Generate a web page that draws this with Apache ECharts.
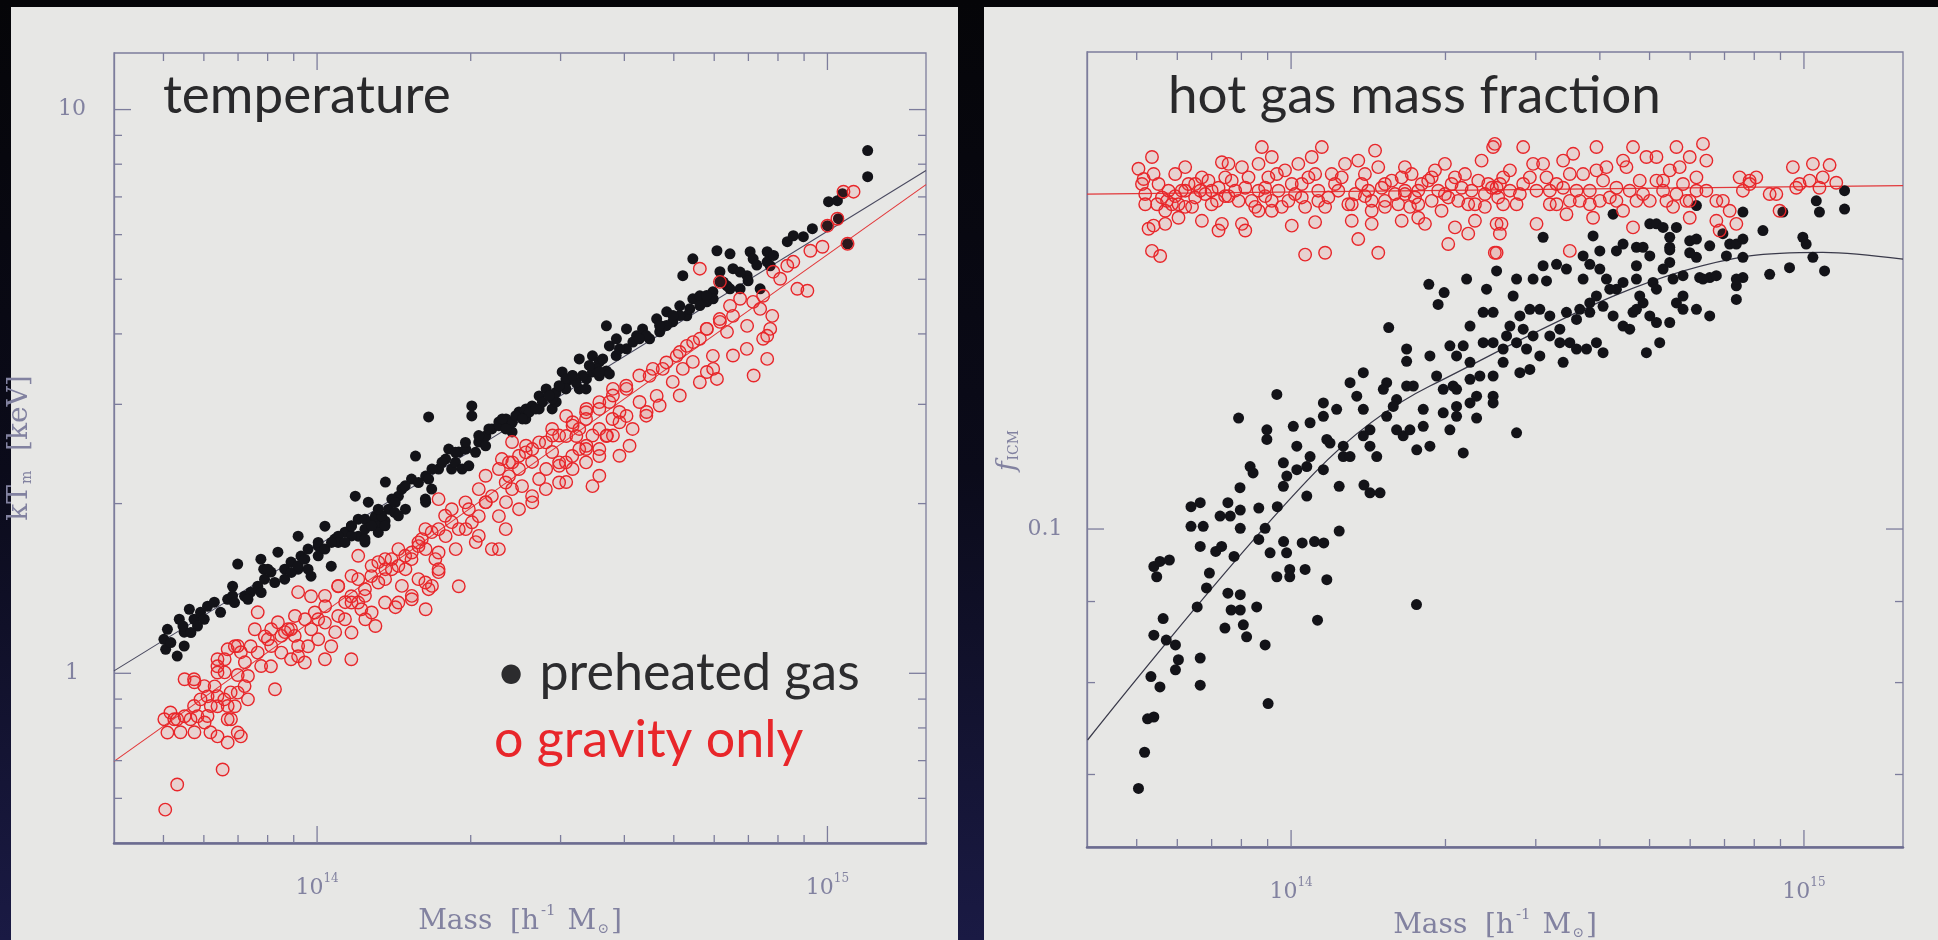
<!DOCTYPE html>
<html>
<head>
<meta charset="utf-8">
<title>Preheated gas vs gravity only: cluster temperature and hot gas fraction</title>
<script src="https://cdn.jsdelivr.net/npm/echarts/dist/echarts.min.js"></script>
<style>
  html, body { margin: 0; padding: 0; background: #07070c; }
  #chart { width: 1938px; height: 940px; }
</style>
</head>
<body>
<div id="chart"></div>
<script>
// Masses are stored in units of 1e14 h^-1 Msun.
const MASS_UNIT = 1e14;

// ---- Left panel: mass-weighted temperature kT_m [keV] ----
const tempPreheated = [
  [0.501,1.149],[0.505,1.103],[0.532,1.073],[0.537,1.247],[0.549,1.183],[0.562,1.299],[0.574,1.247],[0.591,1.283],[0.610,1.315],[0.629,1.337],
  [0.647,1.283],[0.668,1.353],[0.683,1.427],[0.699,1.562],[0.721,1.370],[0.741,1.393],[0.765,1.427],[0.776,1.594],[0.789,1.469],[0.812,1.512],
  [0.838,1.640],[0.864,1.530],[0.889,1.575],[0.918,1.751],[0.930,1.614],[0.960,1.661],[0.973,1.487],[1.005,1.681],[1.036,1.824],[1.066,1.549],
  [1.083,1.730],[1.134,1.780],[1.167,1.824],[1.204,1.751],[1.241,1.709],[1.277,1.854],[1.318,1.839],[1.359,1.862],[0.960,1.530],[1.100,1.751],
  [1.188,2.062],[1.204,1.877],[1.260,2.012],[1.301,1.900],[1.361,2.184],[1.380,1.955],[1.443,2.062],[1.490,1.955],[1.531,2.211],[1.559,2.429],
  [1.632,2.012],[1.654,2.850],[1.632,2.238],[1.730,2.303],[1.786,2.399],[1.835,2.303],[1.895,2.469],[1.956,2.499],[2.010,2.981],[2.010,2.861],
  [2.074,2.572],[2.141,2.636],[2.200,2.713],[2.271,2.792],[2.345,2.826],[2.410,2.680],[2.487,2.908],[2.567,2.944],[2.638,2.981],[2.723,3.105],
  [2.811,3.195],[2.888,2.944],[2.941,3.029],[3.077,3.288],[3.162,3.370],[3.264,3.195],[3.371,3.328],[3.464,3.424],[3.573,3.370],[3.689,3.438],
  [3.022,3.424],[3.120,3.328],[3.264,3.612],[3.464,3.657],[3.573,3.568],[3.689,4.134],[3.739,3.809],[3.859,3.921],[4.039,4.083],[4.039,3.763],
  [4.227,3.969],[4.343,4.083],[4.483,3.921],[4.628,4.254],[4.692,4.034],[4.843,4.377],[4.976,4.202],[5.136,4.486],[5.207,5.073],[5.302,4.306],
  [5.448,5.437],[5.448,4.617],[5.623,4.674],[5.804,4.560],[5.964,4.751],[6.074,5.618],[6.157,5.157],[6.356,4.869],[6.443,5.549],[6.531,5.221],
  [6.743,4.809],[6.960,5.073],[7.055,5.595],[7.152,5.437],[7.382,4.809],[7.620,5.595],[7.620,5.370],[8.343,5.829],[8.573,5.973],[6.991,4.969],
  [7.724,5.284],[6.157,4.948],[5.884,4.617],[8.970,5.949],[9.344,6.147],[10.00,6.223],[10.05,6.865],[10.46,6.893],[10.51,6.403],[10.70,7.092],
  [10.95,5.781],[11.99,8.458],[11.99,7.603],[1.811,2.499],[1.867,2.367],[1.924,2.303],[1.983,2.334],[2.044,2.466],[2.139,2.533],[2.271,2.750],
  [2.413,2.788],[2.564,2.826],[2.723,2.944],[2.892,3.067],[3.073,3.328],[3.365,3.195],[3.739,3.397],[1.241,1.877],[1.338,1.903],[1.401,2.037],
  [1.466,2.122],[1.005,1.707],[0.918,1.530],[3.073,3.195],[3.314,3.375],[3.522,3.467],[3.855,3.662],[4.157,3.868],[4.416,3.973],[4.836,4.140],
  [5.136,4.312],[5.623,4.491],[5.972,4.617],[6.443,4.809],[0.546,1.213],[0.683,1.372],[0.786,1.530],[1.418,1.929],[1.677,2.122],
  [0.801,1.530],[0.826,1.449],[0.864,1.469],[0.890,1.510],[0.918,1.551],[0.946,1.594],[1.005,1.616],[1.036,1.661],[1.100,1.707],[1.168,1.753],
  [1.241,1.802],[1.318,1.778],[0.777,1.391],[0.732,1.353],[0.689,1.335],[0.601,1.247],[0.583,1.213],[0.566,1.181],[0.517,1.134],[0.549,1.118],
  [0.509,1.197],[1.067,1.707],[1.134,1.707],[1.168,1.827],[1.279,1.827],[1.318,1.955],[1.422,2.010],[1.488,2.151],[1.580,2.180],[1.654,2.211],
  [1.679,2.303],[1.757,2.367],[1.867,2.466],[1.953,2.568],[2.074,2.641],[2.171,2.713],[2.306,2.826],[2.451,2.864],[2.605,2.905],[2.764,3.027],
  [2.937,3.150],[3.216,3.283],[3.573,3.424],[1.241,1.730],[1.359,1.827],[1.443,1.903],[1.630,2.037],[2.342,2.713],[2.525,2.826],[2.683,2.944],
  [2.850,3.110],[2.980,3.237],[3.167,3.375],[3.416,3.516],[3.628,3.612],[3.913,3.763],[4.280,3.921],[4.690,4.140],[4.982,4.312],[5.374,4.431],
  [5.799,4.680],[6.251,4.943],[6.743,5.150],[7.271,5.298],[7.842,5.511]
];
const tempGravity = [
  [0.504,0.573],[0.532,0.635],[0.653,0.675],[0.502,0.829],[0.516,0.852],[0.532,0.829],[0.550,0.839],[0.565,0.829],[0.583,0.839],[0.602,0.818],
  [0.540,0.786],[0.575,0.786],[0.618,0.786],[0.638,0.773],[0.668,0.754],[0.709,0.773],[0.550,0.976],[0.575,0.964],[0.630,0.948],[0.659,1.004],
  [0.610,0.910],[0.638,0.874],[0.668,0.829],[0.690,0.874],[0.732,0.899],[0.677,0.925],[0.699,0.993],[0.722,1.046],[0.690,1.117],[0.709,1.090],
  [0.659,1.059],[0.638,1.029],[0.741,1.117],[0.755,1.197],[0.765,1.283],[0.790,1.163],[0.812,1.029],[0.827,0.937],[0.838,1.232],[0.865,1.183],
  [0.889,1.197],[0.889,1.059],[0.918,1.072],[0.918,1.393],[0.947,1.247],[0.960,1.117],[0.973,1.370],[1.005,1.247],[1.037,1.315],[1.066,1.117],
  [1.085,1.183],[1.100,1.427],[1.135,1.337],[1.167,1.370],[1.167,1.059],[1.204,1.469],[1.221,1.299],[1.243,1.247],[1.277,1.487],[1.301,1.213],
  [1.318,1.575],[1.361,1.530],[1.399,1.594],[1.424,1.310],[1.443,1.661],[1.490,1.530],[1.531,1.594],[1.580,1.681],[1.632,1.661],[1.632,1.299],
  [1.654,1.410],[1.677,1.780],[1.730,1.802],[1.730,1.512],[1.786,1.751],[1.835,1.854],[1.869,1.661],[1.895,1.427],[1.956,1.802],[1.983,1.955],
  [2.046,1.709],[2.074,1.900],[2.141,2.012],[2.200,2.062],[2.271,1.900],[2.271,1.661],[2.345,2.012],[2.377,2.238],[2.410,2.122],[2.487,2.303],
  [2.521,2.148],[2.638,2.062],[2.638,2.371],[2.723,2.211],[2.811,2.303],[2.888,2.469],[2.981,2.334],[3.077,2.184],[3.077,2.636],[3.162,2.429],
  [3.264,2.713],[3.371,2.533],[3.464,2.148],[3.573,2.429],[3.689,2.636],[3.791,2.826],[3.913,2.908],[4.039,3.195],[2.302,2.399],[2.410,2.572],
  [2.567,2.533],[2.888,2.713],[3.077,2.861],[3.221,2.636],[3.371,2.944],[3.573,2.713],[3.739,3.029],[4.039,2.861],[4.095,2.533],[4.152,2.713],
  [4.284,3.029],[4.422,2.908],[4.483,3.370],[4.628,3.105],[4.756,3.467],[4.976,3.288],[5.067,3.657],[5.207,3.467],[5.302,3.809],[5.448,3.568],
  [5.623,3.921],[5.804,4.083],[5.804,3.424],[5.964,3.657],[6.074,3.328],[6.157,4.202],[6.356,4.034],[6.443,4.486],[6.531,4.306],[6.743,4.617],
  [6.960,4.134],[7.152,4.560],[7.382,4.431],[7.482,4.674],[7.482,3.921],[7.620,3.612],[7.724,4.083],[7.831,5.157],[8.080,5.010],[8.573,5.370],
  [8.730,4.809],[5.623,5.221],[6.157,4.948],[8.343,5.284],[9.134,4.771],[9.259,5.618],[9.777,5.711],[10.00,6.223],[10.46,6.403],[10.75,7.151],
  [11.25,7.151],[10.95,5.781],[7.796,4.306],[7.620,3.969],[0.905,1.264],
  [0.813,1.197],[0.851,1.165],[0.877,1.197],[0.904,1.165],[0.801,1.149],[0.668,1.103],[0.699,1.118],[0.638,1.003],[0.601,0.949],[0.638,1.059],
  [0.990,1.282],[1.036,1.372],[1.100,1.429],[1.168,1.489],[1.204,1.335],[1.241,1.410],[1.359,1.469],[1.443,1.551],[1.533,1.638],[1.604,1.730],
  [1.705,1.594],[0.525,0.829],[0.509,0.785],[0.574,0.875],[0.610,0.840],[0.619,0.875],[0.678,0.829],[0.699,0.785],[0.658,0.899],[0.721,0.949],
  [1.730,2.037],[1.836,1.955],[1.953,2.010],[2.074,2.122],[2.139,2.241],[2.271,2.303],[2.413,2.367],[2.564,2.466],[2.723,2.568],[2.892,2.641],
  [2.342,2.180],[2.139,2.010],[2.011,1.853],[1.895,1.802],[1.782,1.903],[1.630,1.802],[1.580,1.707],[1.488,1.616],[1.401,1.530],[1.318,1.449],
  [1.241,1.372],[1.168,1.335],[1.100,1.264],[1.036,1.230],[0.974,1.197],[3.167,2.788],[3.365,2.905],[3.573,3.027],[3.799,3.195],[2.980,2.367],
  [3.264,2.499],[3.464,2.641],[3.573,2.241],[2.377,2.367],[2.487,2.432],[2.640,2.499],[2.807,2.568],[2.980,2.641],[3.167,2.750],[3.365,2.826],
  [3.573,2.944],[3.799,3.110],[4.034,3.237],[4.280,3.375],[4.549,3.467],[4.836,3.560],[5.136,3.714],[5.456,3.868],[5.799,4.083],[6.150,4.250],
  [3.073,2.367],[3.365,2.499],[3.698,2.641],[3.913,2.788],[4.416,2.864],[4.690,2.986],[5.136,3.110],[5.623,3.283],[5.972,3.467],[6.530,3.662],
  [6.950,3.763],
  [0.574,0.976],[0.591,0.899],[0.638,0.911],[0.668,0.875],[0.699,0.924],[0.732,0.989],[0.777,1.030],[0.765,1.088],[0.813,1.118],[0.851,1.088],
  [0.918,1.118],[0.946,1.045],[1.005,1.149],[1.036,1.059],[1.134,1.247],[1.168,1.181],[1.279,1.282],[1.359,1.335],[1.466,1.429],[1.533,1.353],
  [1.580,1.469],[1.679,1.429],[1.730,1.638],[1.359,1.594],[1.279,1.551],[1.204,1.616],[2.342,1.802],[2.487,1.955],[2.640,2.010],[2.807,2.122],
  [2.980,2.180],[3.167,2.303],[3.365,2.367],[3.573,2.499],[3.799,2.641],[3.913,2.432],[2.074,1.753],[2.200,1.661],[1.730,1.530],[1.630,1.449],
  [1.533,1.372],[1.443,1.335],[7.168,3.375]
];
const tempFitPreheated = [[0.4,1.01],[15.6,7.80]];
const tempFitGravity = [[0.4,0.698],[15.6,7.36]];

// ---- Right panel: hot gas (ICM) mass fraction f_ICM ----
const fracPreheated = [
  [2.516,0.1455],[3.100,0.1528],[3.100,0.1466],[3.293,0.1469],[3.148,0.1434],[3.880,0.1531],[3.999,0.1498],[3.710,0.1487],[3.823,0.1469],[4.245,0.1580],
  [4.309,0.1498],[4.439,0.1513],[4.714,0.1506],[4.856,0.1506],[5.005,0.1558],[5.157,0.1558],[5.313,0.1550],[5.474,0.1528],[5.474,0.1506],[5.641,0.1550],
  [5.988,0.1520],[6.171,0.1484],[6.171,0.1600],[6.261,0.1441],[6.550,0.1441],[6.950,0.1536],[7.164,0.1513],[7.382,0.1513],[7.603,0.1585],[7.603,0.1484],
  [7.603,0.1441],[8.318,0.1543],[8.573,0.1448],[9.096,0.1585],[9.373,0.1462],[9.950,0.1528],[10.10,0.1513],[10.41,0.1484],[10.57,0.1611],[10.72,0.1585],
  [10.97,0.1455],[12.00,0.1635],[12.00,0.1592],
  [2.166,0.1117],[2.752,0.1150],[2.477,0.1213],[2.477,0.1201],[2.102,0.1178],[2.300,0.1175],[2.070,0.1231],[2.233,0.1274],[2.477,0.1249],[2.591,0.1274],
  [2.793,0.1255],[2.921,0.1261],[3.055,0.1286],[2.166,0.1305],[2.369,0.1311],[2.631,0.1324],[2.835,0.1337],[2.964,0.1324],[2.477,0.1370],[2.671,0.1343],
  [2.793,0.1363],[2.921,0.1376],[3.195,0.1324],[3.342,0.1337],[3.392,0.1274],[3.495,0.1311],[3.767,0.1299],[3.939,0.1311],[4.058,0.1292],[3.602,0.1356],
  [3.823,0.1370],[4.058,0.1382],[4.245,0.1363],[4.439,0.1343],[4.574,0.1337],[4.642,0.1370],[4.856,0.1389],[4.930,0.1292],[5.233,0.1311],[5.157,0.1350],
  [5.474,0.1350],[5.810,0.1376],[6.171,0.1376],[6.550,0.1363],[2.199,0.1438],[2.405,0.1417],[2.710,0.1403],[3.999,0.1459],[4.120,0.1438],[4.309,0.1417],
  [4.439,0.1431],[4.714,0.1438],[5.078,0.1431],[5.313,0.1459],[5.474,0.1473],[5.810,0.1445],[6.355,0.1438],[7.060,0.1487],[7.382,0.1424],[7.603,0.1524],
  [7.382,0.1396],[6.171,0.1524],[4.784,0.1403],[5.556,0.1438],
  [0.938,0.1216],[0.790,0.1175],[0.897,0.1139],[0.832,0.1095],[0.795,0.1062],[0.761,0.1019],[0.966,0.1064],[0.981,0.1080],[1.010,0.1161],[1.026,0.1128],
  [1.073,0.1095],[1.089,0.1111],[1.073,0.1049],[1.156,0.1201],[1.191,0.1133],[1.227,0.1190],[1.264,0.1111],[1.303,0.1237],[1.343,0.1213],[1.383,0.1255],
  [1.383,0.1190],[1.425,0.1155],[1.469,0.1111],[1.536,0.1237],[1.606,0.1207],[1.680,0.1231],[1.731,0.1231],[1.536,0.1178],[1.582,0.1195],[1.654,0.1145],
  [1.705,0.1155],[1.758,0.1122],[1.865,0.1128],[1.810,0.1190],[1.865,0.1286],[1.680,0.1299],[1.680,0.1276],[1.922,0.1249],[1.980,0.1225],[2.040,0.1155],
  [2.102,0.1225],[2.233,0.1243],[2.477,0.1311],[2.040,0.1305],[2.591,0.1299],[0.910,0.0966],[1.425,0.1054],[1.491,0.1054],[0.938,0.0933],[0.857,0.0893],
  [0.504,0.0686],[0.518,0.0723],[0.525,0.0759],[0.540,0.0761],[0.533,0.0807],[0.555,0.0795],[0.595,0.0815],[0.603,0.0827],[0.665,0.0829],[0.665,0.0797],
  [0.540,0.0857],[0.571,0.0851],[0.595,0.0845],[0.563,0.0878],[0.656,0.0893],[0.684,0.0918],[0.693,0.0938],[0.753,0.0911],[0.764,0.0889],[0.796,0.0909],
  [0.796,0.0889],[0.807,0.0870],[0.819,0.0855],[0.743,0.0866],[0.890,0.0845],[0.902,0.0776],[0.540,0.0947],[0.555,0.0954],[0.579,0.0956],[0.547,0.0933],
  [0.638,0.1033],[0.665,0.1039],[0.638,0.1004],[0.674,0.1004],[0.665,0.0975],[0.713,0.0968],[0.732,0.0975],[0.774,0.0961],[0.753,0.1039],[0.796,0.1028],
  [0.865,0.1031],[0.796,0.1001],[0.865,0.0985],[0.890,0.1001],[0.940,0.1033],[0.967,0.0982],[0.980,0.0966],[0.994,0.0943],[1.065,0.0943],[1.051,0.0980],
  [1.111,0.0982],[1.158,0.0980],[1.241,0.0997],[0.994,0.0933],[1.174,0.0929],[1.126,0.0876],[1.756,0.0896],[1.387,0.1066],[1.241,0.1064],
  [1.550,0.1340],[1.856,0.1427],[1.988,0.1410],[1.935,0.1386],
  [3.055,0.1376],[3.195,0.1363],[3.443,0.1370],[3.655,0.1376],[3.823,0.1389],[3.939,0.1403],[4.182,0.1417],[3.342,0.1311],[3.602,0.1299],[2.878,0.1299],
  [2.752,0.1311],[4.714,0.1376],[5.005,0.1363],[5.641,0.1389],[5.810,0.1403],[6.748,0.1445],[7.382,0.1438],[5.157,0.1417],[4.714,0.1466],[5.005,0.1487],
  [5.474,0.1500],[5.988,0.1494],[6.550,0.1509],[3.710,0.1438],[3.443,0.1459],[2.964,0.1438],[2.752,0.1438],[2.369,0.1370],[2.233,0.1343],[2.102,0.1286],
  [2.334,0.1249],[2.233,0.1201],
  [1.174,0.1139],[1.264,0.1128],[1.303,0.1111],[1.383,0.1145],[1.425,0.1128],[1.156,0.1090],[1.026,0.1090],[0.966,0.1101],[1.606,0.1155],[1.810,0.1161],
  [1.980,0.1184],[2.102,0.1195],[2.300,0.1213],[1.513,0.1225],[1.156,0.1178],[1.089,0.1167],[0.897,0.1155],[0.843,0.1085],[0.727,0.1019]
];
const fracGravity = [
  [0.504,0.1688],[0.5355,0.1717],[0.5158,0.1663],[0.5394,0.1675],[0.5515,0.1651],[0.560,0.1619],[0.5768,0.1635],[0.5943,0.1675],[0.6032,0.1603],[0.6216,0.1692],
  [0.631,0.1651],[0.650,0.1619],[0.670,0.1667],[0.680,0.1627],[0.700,0.1603],[0.722,0.1642],[0.733,0.1704],[0.755,0.1700],[0.766,0.1659],[0.790,0.1611],
  [0.802,0.1692],[0.814,0.1642],[0.838,0.1611],[0.864,0.1700],[0.877,0.1742],[0.903,0.1667],[0.917,0.1717],[0.945,0.1635],[0.973,0.1684],[0.988,0.1611],
  [1.003,0.1651],[1.033,0.1700],[1.049,0.1619],[1.081,0.1667],[1.097,0.1717],[1.130,0.1635],[1.148,0.1742],[1.165,0.1597],[1.200,0.1675],[1.236,0.1635],
  [1.274,0.1700],[1.313,0.1603],[1.352,0.1708],[1.373,0.1651],[1.414,0.1635],[1.458,0.1733],[1.479,0.1692],[1.524,0.1611],[1.571,0.1659],[1.618,0.1603],
  [1.667,0.1692],[1.718,0.1675],[1.744,0.1619],[1.797,0.1651],[1.880,0.1611],[1.936,0.1635],[1.995,0.1700],[2.056,0.1651],[2.118,0.1611],[2.183,0.1675],
  [2.249,0.1635],[2.352,0.1708],[2.423,0.1651],[2.496,0.1750],[2.534,0.1619],
  [0.5274,0.1547],[0.5394,0.1554],[0.5683,0.1558],[0.5355,0.1498],[0.5556,0.1487],[0.670,0.1565],[0.722,0.1543],[0.733,0.1558],[0.802,0.1558],[0.814,0.1543],
  [0.864,0.1588],[1.003,0.1554],[1.065,0.1490],[1.114,0.1562],[1.165,0.1494],[1.313,0.1565],[1.352,0.1524],[1.436,0.1558],[1.479,0.1494],[1.643,0.1565],
  [1.770,0.1572],[1.824,0.1558],[2.025,0.1513],[2.087,0.1550],[2.215,0.1536],[2.283,0.1565],[2.496,0.1494],[2.572,0.1558],[1.524,0.1597],[0.917,0.1588],
  [0.5683,0.1588],[0.6032,0.1572],[0.6216,0.1597],[0.5195,0.1627],[0.5943,0.1622],[0.7437,0.1622],[0.890,0.1622],[1.393,0.1622],[1.667,0.1635],[2.387,0.1627],
  [2.477,0.1742],[2.516,0.1642],[2.591,0.1603],[2.671,0.1684],[2.752,0.1603],[2.835,0.1742],[2.921,0.1667],[3.010,0.1635],[3.010,0.1558],[3.100,0.1700],
  [3.195,0.1603],[3.293,0.1651],[3.392,0.1708],[3.443,0.1580],[3.548,0.1725],[3.602,0.1635],[3.710,0.1675],[3.823,0.1603],[3.939,0.1742],[4.058,0.1659],
  [4.120,0.1692],[4.182,0.1619],[4.309,0.1642],[4.439,0.1588],[4.507,0.1692],[4.642,0.1742],[4.784,0.1659],[4.930,0.1717],[5.005,0.1611],[5.157,0.1717],
  [5.313,0.1635],[5.474,0.1684],[5.556,0.1597],[5.641,0.1742],[5.810,0.1651],[5.988,0.1717],[6.171,0.1667],[6.355,0.1750],[6.452,0.1708],[6.452,0.1635],
  [6.748,0.1611],[6.748,0.1565],[7.164,0.1588],[7.382,0.1558],[7.491,0.1667],[7.835,0.1659],[8.073,0.1667],[8.834,0.1627],[8.963,0.1588],[9.515,0.1692],
  [9.804,0.1651],[10.41,0.1700],[10.72,0.1642],[11.22,0.1697],[11.56,0.1654],[2.516,0.1558],[2.553,0.1536],[2.516,0.1494],[3.495,0.1498],[3.880,0.1572],
  [4.642,0.1550],[5.988,0.1572],[6.849,0.1543],[5.899,0.1611],[8.573,0.1627],
  [0.650,0.1651],[0.700,0.1635],[0.755,0.1622],[0.864,0.1635],[0.917,0.1611],[1.049,0.1651],[1.130,0.1611],[1.218,0.1651],[1.333,0.1627],[1.436,0.1611],
  [1.524,0.1651],[1.667,0.1627],[1.770,0.1635],[1.880,0.1667],[1.995,0.1627],[2.150,0.1642],[2.283,0.1603],[2.464,0.1642],[0.5856,0.1603],[0.5195,0.1603],
  [0.6216,0.1635],[2.671,0.1635],[2.835,0.1651],[3.195,0.1635],[3.392,0.1642],[3.495,0.1611],[3.823,0.1635],[3.999,0.1611],[4.574,0.1635],[4.714,0.1611],
  [5.313,0.1659],[5.641,0.1627],[6.171,0.1635],[7.835,0.1651],[9.660,0.1642],[10.88,0.1667],
  [0.512,0.1651],[0.548,0.1603],[0.573,0.1611],[0.612,0.1635],[0.641,0.1597],[0.665,0.1635],[0.690,0.1659],[0.717,0.1611],[0.744,0.1667],[0.778,0.1635],
  [0.826,0.1667],[0.851,0.1597],[0.890,0.1642],[0.938,0.1675],[0.959,0.1597],[1.018,0.1627],[1.065,0.1597],[1.114,0.1675],[1.182,0.1619],[1.255,0.1667],
  [1.293,0.1603],[1.393,0.1675],[1.436,0.1588],[1.502,0.1642],[1.594,0.1627],[1.643,0.1667],[1.705,0.1597],[1.770,0.1603],[1.851,0.1659],[1.908,0.1684],
  [1.965,0.1588],[2.025,0.1619],[2.087,0.1667],[2.215,0.1603],[2.317,0.1659],[2.387,0.1597],[2.553,0.1651],[2.591,0.1667],[2.793,0.1627],[2.964,0.1700],
  [3.148,0.1667],[3.293,0.1603],[3.495,0.1675],[3.655,0.1611],[3.939,0.1684],[4.309,0.1611],[4.439,0.1708],[4.856,0.1627],[5.157,0.1659],[5.393,0.1611],
  [5.724,0.1692],[5.988,0.1611],[6.950,0.1611],[7.603,0.1635],[10.26,0.1659]
];
const fracFitPreheated = [[0.401,0.0736],[1.111,0.1085],[1.865,0.1231],[7.835,0.1487],[10.88,0.1495],[15.6,0.1480]];
const fracFitGravity = [[0.4,0.1627],[15.6,0.1647]];

// ---- Axis ranges and tick marks ----
const massRange = [0.4, 15.6];
const tempRange = [0.5, 12.6];
const fracRange = [0.063, 0.2];
const massMinorTicks = [0.5,0.6,0.7,0.8,0.9,2,3,4,5,6,7,8,9];
const massMajorTicks = [1,10];
const tempMinorTicks = [0.6,0.7,0.8,0.9,2,3,4,5,6,7,8,9];
const tempMajorTicks = [1,10];
const fracMinorTicks = [0.07,0.08,0.09];
const fracMajorTicks = [0.1];

// ---- Styling ----
const SERIF = '"DejaVu Serif", "Liberation Serif", serif';
const SANS = 'Lato, "Open Sans", sans-serif';
const FRAME = '#7d7d9c';
const AXIS_TEXT = '#8282a0';
const PANEL = '#e7e7e5';
const BLACK_PT = '#131318';
const RED = '#e8262a';

const toXY = arr => arr.map(p => [p[0] * MASS_UNIT, p[1]]);
const isDecade = v => { const e = Math.log10(v); return Math.abs(e - Math.round(e)) < 1e-6; };

function tickData(yRange, yMinor, yMajor) {
  const d = [];
  massMinorTicks.forEach(v => d.push([v * MASS_UNIT, yRange[0], 0, 0]));
  massMajorTicks.forEach(v => d.push([v * MASS_UNIT, yRange[0], 1, 0]));
  yMinor.forEach(v => d.push([massRange[0] * MASS_UNIT, v, 0, 1]));
  yMajor.forEach(v => d.push([massRange[0] * MASS_UNIT, v, 1, 1]));
  return d;
}

// Inward ticks on all four sides of a panel frame.
function renderTicks(params, api) {
  const cs = params.coordSys;
  const len = api.value(2) === 1 ? 17 : 8;
  const mk = (x1, y1, x2, y2) => ({ type: 'line', shape: { x1, y1, x2, y2 }, style: { stroke: FRAME, lineWidth: 1.3 } });
  const p = api.coord([api.value(0), api.value(1)]);
  if (api.value(3) === 0) {
    const x = p[0], b = cs.y + cs.height, t = cs.y;
    return { type: 'group', children: [mk(x, b, x, b - len), mk(x, t, x, t + len)] };
  }
  const y = p[1], l = cs.x, r = cs.x + cs.width;
  return { type: 'group', children: [mk(l, y, l + len, y), mk(r, y, r - len, y)] };
}

const nameRich = {
  a:   { fontFamily: SERIF, fontSize: 28, color: AXIS_TEXT, lineHeight: 32, verticalAlign: 'bottom' },
  it:  { fontFamily: SERIF, fontSize: 26, fontStyle: 'italic', color: AXIS_TEXT, lineHeight: 30, verticalAlign: 'bottom' },
  sup: { fontFamily: SERIF, fontSize: 15, color: AXIS_TEXT, lineHeight: 15, verticalAlign: 'top', padding: [0, 3, 0, 2] },
  sub: { fontFamily: SERIF, fontSize: 14, color: AXIS_TEXT, lineHeight: 14, verticalAlign: 'bottom', padding: [0, 2, 0, 1] }
};

function massAxis(gridIndex) {
  return {
    type: 'log', logBase: 10, gridIndex,
    min: massRange[0] * MASS_UNIT, max: massRange[1] * MASS_UNIT,
    axisLine: { show: true, onZero: false, lineStyle: { color: '#6c6c90', width: 2.5 } },
    axisTick: { show: false }, splitLine: { show: false }, minorTick: { show: false },
    axisLabel: {
      show: true, interval: 0, margin: 30,
      formatter: v => isDecade(v) ? '{b|10}{s|' + Math.round(Math.log10(v)) + '}' : '',
      rich: {
        b: { fontFamily: SERIF, fontSize: 22, color: AXIS_TEXT, lineHeight: 26, verticalAlign: 'bottom' },
        s: { fontFamily: SERIF, fontSize: 12, color: AXIS_TEXT, lineHeight: 12, verticalAlign: 'top' }
      }
    },
    name: '{a|Mass  [h}{sup|-1}{a| M}{sub|\u2299}{a|]}',
    nameLocation: 'middle', nameGap: 60,
    nameTextStyle: { rich: nameRich }
  };
}

function valueAxis(gridIndex, range, name, nameGap) {
  return {
    type: 'log', logBase: 10, gridIndex, min: range[0], max: range[1],
    axisLine: { show: true, onZero: false, lineStyle: { color: FRAME, width: 1.3 } },
    axisTick: { show: false }, splitLine: { show: false }, minorTick: { show: false },
    axisLabel: {
      show: true, interval: 0, margin: 42, align: 'center',
      fontFamily: SERIF, fontSize: 22, color: AXIS_TEXT,
      formatter: v => isDecade(v) ? (v >= 1 ? String(Math.round(v)) : String(+v.toPrecision(1))) : ''
    },
    name, nameLocation: 'middle', nameGap, nameRotate: 90,
    nameTextStyle: { rich: nameRich }
  };
}

const scatterBlack = (xi, data) => ({
  type: 'scatter', xAxisIndex: xi, yAxisIndex: xi, data: toXY(data),
  symbol: 'circle', symbolSize: 11, z: 3,
  itemStyle: { color: BLACK_PT, opacity: 1 }
});
const scatterRed = (xi, data) => ({
  type: 'scatter', xAxisIndex: xi, yAxisIndex: xi, data: toXY(data),
  symbol: 'circle', symbolSize: 12.5, z: 4,
  itemStyle: { color: 'rgba(240,60,60,0.12)', borderColor: RED, borderWidth: 1.4, opacity: 1 }
});
const fitLine = (xi, data, color, width, smooth) => ({
  type: 'line', xAxisIndex: xi, yAxisIndex: xi, data: toXY(data),
  showSymbol: false, smooth: smooth || false, z: 2,
  lineStyle: { color, width }
});

const chart = echarts.init(document.getElementById('chart'), null, { renderer: 'canvas' });
chart.setOption({
  animation: false,
  backgroundColor: {
    type: 'linear', x: 0, y: 0, x2: 0, y2: 1,
    colorStops: [{ offset: 0, color: '#050508' }, { offset: 0.5, color: '#0b0b1a' }, { offset: 1, color: '#1a1a44' }]
  },
  graphic: [
    { type: 'rect', silent: true, z: -10, shape: { x: 11, y: 7, width: 947, height: 933 }, style: { fill: PANEL } },
    { type: 'rect', silent: true, z: -10, shape: { x: 984, y: 7, width: 954, height: 933 }, style: { fill: PANEL } },
    { type: 'text', silent: true, z: 10, x: 163, y: 96,
      style: { text: 'temperature', font: '53px ' + SANS, fill: '#29292b', verticalAlign: 'middle' } },
    { type: 'text', silent: true, z: 10, x: 1168, y: 96,
      style: { text: 'hot gas mass fraction', font: '53px ' + SANS, fill: '#29292b', verticalAlign: 'middle' } },
    { type: 'text', silent: true, z: 10, x: 496, y: 673,
      style: { text: '\u2022 preheated gas', font: '52px ' + SANS, fill: '#2c2c2e', verticalAlign: 'middle' } },
    { type: 'text', silent: true, z: 10, x: 494, y: 740,
      style: { text: 'o gravity only', font: '52px ' + SANS, fill: RED, verticalAlign: 'middle' } }
  ],
  grid: [
    { left: 114, top: 53, width: 812, height: 790, show: true, borderColor: FRAME, borderWidth: 1.3, backgroundColor: 'transparent', containLabel: false, outerBoundsMode: 'none' },
    { left: 1087, top: 52, width: 816, height: 795, show: true, borderColor: FRAME, borderWidth: 1.3, backgroundColor: 'transparent', containLabel: false, outerBoundsMode: 'none' }
  ],
  xAxis: [massAxis(0), massAxis(1)],
  yAxis: [
    valueAxis(0, tempRange, '{a|kT}{sub|m}{a|  [keV]}', 80),
    valueAxis(1, fracRange, '{it|f}{sub|ICM}', 66)
  ],
  series: [
    fitLine(0, tempFitPreheated, '#4a4a60', 1.1),
    fitLine(0, tempFitGravity, '#e2383a', 1.1),
    scatterBlack(0, tempPreheated),
    scatterRed(0, tempGravity),
    fitLine(1, fracFitPreheated, '#3a3a4a', 1.3, 0.35),
    fitLine(1, fracFitGravity, '#e2383a', 1.3),
    scatterBlack(1, fracPreheated),
    scatterRed(1, fracGravity),
    { type: 'custom', xAxisIndex: 0, yAxisIndex: 0, renderItem: renderTicks, silent: true, clip: false, z: 5,
      encode: { x: 0, y: 1 }, data: tickData(tempRange, tempMinorTicks, tempMajorTicks) },
    { type: 'custom', xAxisIndex: 1, yAxisIndex: 1, renderItem: renderTicks, silent: true, clip: false, z: 5,
      encode: { x: 0, y: 1 }, data: tickData(fracRange, fracMinorTicks, fracMajorTicks) }
  ]
});
</script>
</body>
</html>
